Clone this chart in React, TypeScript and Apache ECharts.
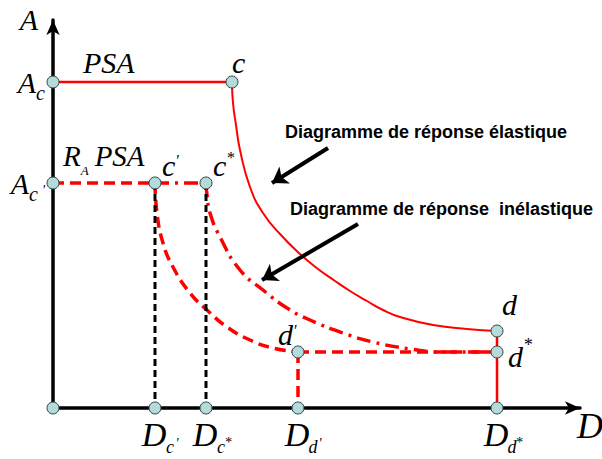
import React, { useEffect, useRef } from "react";
import * as echarts from "echarts";

const SERIF = "'Liberation Serif', 'Times New Roman', serif";
const SANS = "'Liberation Sans', Arial, sans-serif";
const RED = "#ff0000";

// Tick positions on the displacement axis (D) and the acceleration axis (A)
const dTicks = [102, 153, 245, 444];
const dTickSubs = ["c", "c", "d", "d"];
const dTickMarks = ["'", "*", "'", "*"];
const aTicks = [326, 225];
const aTickSubs = ["c", "c"];
const aTickMarks = ["", "'"];

// Elastic spectrum: PSA plateau, then the branch c -> d and the drop to D_d*
const elasticPlateau = [[0, 326], [179, 326]];
const elasticBranch = [
  [179, 326], [180, 305], [183, 283], [187, 258], [197, 221], [210, 195], [227, 174],
  [247, 154], [265, 139], [282, 127], [297, 117], [314, 107], [330, 98], [347, 91],
  [380, 83], [414, 79], [444, 77],
];
const elasticDrop = [[444, 77], [444, 0]];

// Inelastic spectrum: R_A PSA plateau, branch c' -> d', tail to d*, drop to D_d'
const inelasticPlateau = [[0, 225], [102, 225]];
const inelasticBranch = [
  [102, 225], [104, 195], [110, 165], [120, 141], [137, 115], [154, 98], [174, 81],
  [197, 68], [220, 60], [245, 56],
];
const inelasticTail = [[245, 56], [444, 56]];
const inelasticDrop = [[245, 56], [245, 0]];

// Inelastic spectrum starting from c*
const shiftedPlateau = [[102, 225], [153, 225]];
const shiftedBranch = [
  [153, 225], [154, 213], [157, 195], [167, 171], [187, 138], [210, 118], [234, 100],
  [257, 88], [290, 75], [320, 66], [357, 59], [387, 56], [444, 56],
];

// Projections of c' and c* onto the D axis
const projections = [
  [[102, 225], [102, 0]],
  [[153, 225], [153, 0]],
];

// Marked points
const pointNames = ["O", "Ac", "c", "Ac'", "c'", "c*", "Dc'", "Dc*", "Dd'", "Dd*", "d'", "d", "d*"];
const pointCoords = [
  [0, 0], [0, 326], [179, 326], [0, 225], [102, 225], [153, 225],
  [102, 0], [153, 0], [245, 0], [444, 0], [245, 56], [444, 77], [444, 56],
];

// Annotation arrows (from, to)
const arrows = [
  [[275, 260], [219, 225]],
  [[305, 184], [209, 128]],
];
const annotationTexts = ["Diagramme de réponse élastique", "Diagramme de réponse  inélastique"];

const ital = {
  fontFamily: SERIF,
  fontStyle: "italic",
  color: "#000",
  textBorderWidth: 0,
  textBorderColor: "transparent",
};

const pointLabels: Record<string, { text: string; offset: number[] }> = {
  c: { text: "{b|c}", offset: [0, -20] },
  "c'": { text: "{b|c}{pr|'}", offset: [7, -18] },
  "c*": { text: "{b|c}{ast|*}", offset: [7, -18] },
  d: { text: "{b|d}", offset: [5, -27] },
  "d*": { text: "{b|d}{ast2|*}", offset: [11, 4] },
  "d'": { text: "{b|d}{pr2|'}", offset: [-20, -18] },
};

const pointRich = {
  b: { ...ital, fontSize: 30 },
  pr: { ...ital, fontSize: 16, padding: [0, 0, 10, 0] },
  pr2: { ...ital, fontSize: 16, padding: [0, 0, 8, 0] },
  ast: { ...ital, fontSize: 16, padding: [0, 0, 16, 0] },
  ast2: { ...ital, fontSize: 18, padding: [0, 0, 22, 0] },
};

function lineSeries(data: number[][], color: string, width: number, type: any, smooth = false) {
  return {
    type: "line",
    data,
    smooth,
    symbol: "none",
    silent: true,
    lineStyle: { color, width, type, cap: "butt" },
    z: 3,
  };
}

export default function App() {
  const ref = useRef<HTMLDivElement>(null);

  useEffect(() => {
    if (!ref.current) return;
    const chart = echarts.init(ref.current, undefined, { renderer: "svg" });

    const scatterData = pointNames.map((name, i) => {
      const lab = pointLabels[name];
      return {
        name,
        value: pointCoords[i],
        label: lab
          ? {
              show: true,
              position: "inside",
              align: "left",
              verticalAlign: "middle",
              offset: lab.offset,
              formatter: lab.text,
              color: "#000",
              opacity: 1,
              textBorderWidth: 0,
              textBorderColor: "transparent",
              rich: pointRich,
            }
          : { show: false },
      };
    });

    chart.setOption({
      animation: false,
      backgroundColor: "#fff",
      grid: { left: 53, right: 22, top: 20, bottom: 51, containLabel: false, outerBoundsMode: "none" },
      xAxis: {
        type: "value",
        min: 0,
        max: 527,
        splitLine: { show: false },
        axisTick: { show: false },
        axisLine: {
          show: true,
          symbol: ["none", "arrow"],
          symbolSize: [10, 15],
          lineStyle: { color: "#000", width: 3.5 },
        },
        name: "D",
        nameLocation: "end",
        nameGap: -3,
        nameTextStyle: { ...ital, fontSize: 36, align: "left", verticalAlign: "top" },
        axisLabel: {
          customValues: dTicks,
          margin: 26,
          verticalAlign: "middle",
          align: "center",
          formatter: (v: number) => {
            const i = dTicks.indexOf(v);
            if (i < 0) return "";
            const mark = dTickMarks[i] === "*" ? "{ast|*}" : "{pr|'}";
            return `{sp| }{m|D}{s|${dTickSubs[i]}}${mark}`;
          },
          rich: {
            sp: { width: 12, fontSize: 10 },
            m: { ...ital, fontSize: 34, width: 23 },
            s: { ...ital, fontSize: 18, width: 9, padding: [26, 0, 0, 0] },
            pr: { ...ital, fontSize: 14, width: 5, padding: [18, 0, 0, 0] },
            ast: { ...ital, fontSize: 14, width: 5, padding: [17, 0, 0, 0] },
          },
        },
      },
      yAxis: {
        type: "value",
        min: 0,
        max: 388,
        splitLine: { show: false },
        axisTick: { show: false },
        axisLine: {
          show: true,
          symbol: ["none", "arrow"],
          symbolSize: [10, 15],
          lineStyle: { color: "#000", width: 3.5 },
        },
        name: "A",
        nameLocation: "end",
        nameGap: 1,
        nameTextStyle: { ...ital, fontSize: 30, align: "right", verticalAlign: "middle", padding: [0, 15, 0, 0] },
        axisLabel: {
          customValues: aTicks,
          margin: 8,
          align: "right",
          verticalAlign: "middle",
          formatter: (v: number) => {
            const i = aTicks.indexOf(v);
            if (i < 0) return "";
            const mark = aTickMarks[i] ? "{pr|'}" : "";
            return `{m|A}{s|${aTickSubs[i]}}${mark}`;
          },
          rich: {
            m: { ...ital, fontSize: 30 },
            s: { ...ital, fontSize: 20, padding: [22, 0, 0, 0] },
            pr: { ...ital, fontSize: 14, width: 7, padding: [14, 0, 0, 0] },
          },
        },
      },
      series: [
        lineSeries(elasticPlateau, RED, 2.5, "solid"),
        lineSeries(elasticBranch, RED, 2, "solid", true),
        lineSeries(elasticDrop, RED, 2.5, "solid"),
        lineSeries(inelasticPlateau, RED, 3.5, [11, 6]),
        lineSeries(inelasticBranch, RED, 3.5, [11, 6], true),
        lineSeries(inelasticTail, RED, 3.5, [11, 6]),
        lineSeries(inelasticDrop, RED, 3.5, [11, 6]),
        lineSeries(shiftedPlateau, RED, 3.5, [14, 6, 3, 6]),
        lineSeries(shiftedBranch, RED, 3.5, [14, 6, 3, 6], true),
        ...projections.map((p) => lineSeries(p, "#000", 3, [7, 4])),
        {
          type: "line",
          data: [],
          silent: true,
          markLine: {
            silent: true,
            symbol: ["none", "arrow"],
            symbolSize: 15,
            label: { show: false },
            lineStyle: { color: "#000", width: 4, type: "solid" },
            data: arrows.map(([a, b]) => [{ coord: a }, { coord: b }]),
          },
        },
        {
          type: "scatter",
          data: scatterData,
          symbol: "circle",
          symbolSize: 12,
          silent: true,
          z: 10,
          itemStyle: { color: "#b4dada", borderColor: "#2f4646", borderWidth: 1, opacity: 1 },
        },
      ],
      graphic: [
        {
          type: "text",
          x: 83,
          y: 62,
          style: { text: "PSA", font: `italic 30px ${SERIF}`, fill: "#000", align: "left", verticalAlign: "middle" },
        },
        {
          type: "text",
          x: 63,
          y: 156,
          style: {
            text: "{m|R}{s|A}{m|PSA}",
            align: "left",
            verticalAlign: "middle",
            rich: {
              m: { ...ital, fontSize: 29 },
              s: { ...ital, fontSize: 13, padding: [28, 6, 0, 0] },
            },
          },
        },
        {
          type: "text",
          x: 285,
          y: 132,
          style: { text: annotationTexts[0], font: `bold 18px ${SANS}`, fill: "#000", align: "left", verticalAlign: "middle" },
        },
        {
          type: "text",
          x: 290,
          y: 209,
          style: { text: annotationTexts[1], font: `bold 18px ${SANS}`, fill: "#000", align: "left", verticalAlign: "middle" },
        },
      ],
    });

    return () => chart.dispose();
  }, []);

  return (
    <div
      ref={ref}
      style={{ position: "fixed", left: 0, top: 0, width: 602, height: 459, background: "#fff" }}
    />
  );
}
